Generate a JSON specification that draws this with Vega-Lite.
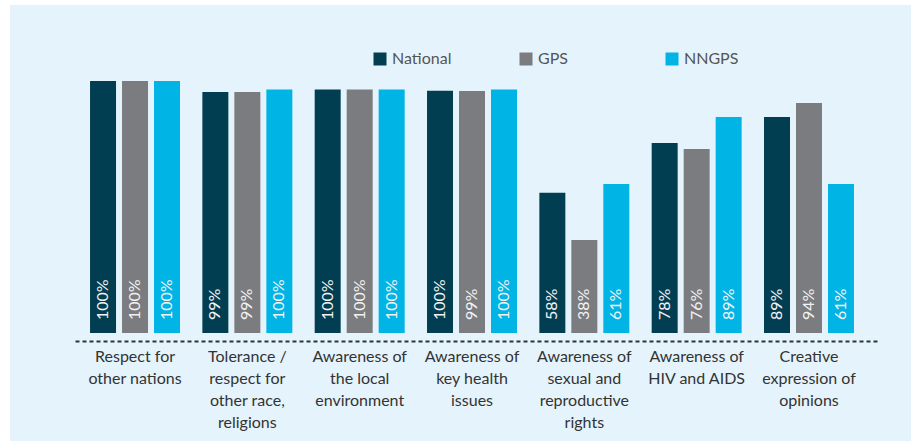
{
  "$schema": "https://vega.github.io/schema/vega-lite/v6.json",
  "width": 901,
  "height": 436,
  "autosize": {"type": "none"},
  "padding": {"left": 10, "top": 5, "right": 0, "bottom": 0},
  "background": "#ffffff",
  "config": {
    "view": {"fill": "#e5f4fc", "stroke": null},
    "font": "Lato"
  },
  "data": {
    "values": [
      {"category": "Respect for\nother nations", "series": "National", "value": 103.5, "label": "100%"},
      {"category": "Respect for\nother nations", "series": "GPS", "value": 103.5, "label": "100%"},
      {"category": "Respect for\nother nations", "series": "NNGPS", "value": 103.5, "label": "100%"},
      {"category": "Tolerance /\nrespect for\nother race,\nreligions", "series": "National", "value": 99, "label": "99%"},
      {"category": "Tolerance /\nrespect for\nother race,\nreligions", "series": "GPS", "value": 99, "label": "99%"},
      {"category": "Tolerance /\nrespect for\nother race,\nreligions", "series": "NNGPS", "value": 100, "label": "100%"},
      {"category": "Awareness of\nthe local\nenvironment", "series": "National", "value": 100, "label": "100%"},
      {"category": "Awareness of\nthe local\nenvironment", "series": "GPS", "value": 100, "label": "100%"},
      {"category": "Awareness of\nthe local\nenvironment", "series": "NNGPS", "value": 100, "label": "100%"},
      {"category": "Awareness of\nkey health\nissues", "series": "National", "value": 99.5, "label": "100%"},
      {"category": "Awareness of\nkey health\nissues", "series": "GPS", "value": 99.4, "label": "99%"},
      {"category": "Awareness of\nkey health\nissues", "series": "NNGPS", "value": 100, "label": "100%"},
      {"category": "Awareness of\nsexual and\nreproductive\nrights", "series": "National", "value": 57.6, "label": "58%"},
      {"category": "Awareness of\nsexual and\nreproductive\nrights", "series": "GPS", "value": 38.2, "label": "38%"},
      {"category": "Awareness of\nsexual and\nreproductive\nrights", "series": "NNGPS", "value": 61.2, "label": "61%"},
      {"category": "Awareness of\nHIV and AIDS", "series": "National", "value": 78, "label": "78%"},
      {"category": "Awareness of\nHIV and AIDS", "series": "GPS", "value": 75.6, "label": "76%"},
      {"category": "Awareness of\nHIV and AIDS", "series": "NNGPS", "value": 88.7, "label": "89%"},
      {"category": "Creative\nexpression of\nopinions", "series": "National", "value": 88.7, "label": "89%"},
      {"category": "Creative\nexpression of\nopinions", "series": "GPS", "value": 94.5, "label": "94%"},
      {"category": "Creative\nexpression of\nopinions", "series": "NNGPS", "value": 61.2, "label": "61%"}
    ]
  },
  "encoding": {
    "x": {
      "field": "category",
      "type": "nominal",
      "sort": null,
      "scale": {"range": [65, 868], "paddingInner": 0.199, "paddingOuter": 0.1738, "align": 0.385},
      "axis": {
        "title": null,
        "orient": "bottom",
        "offset": -100,
        "ticks": false,
        "labelAngle": 0,
        "labelAlign": "center",
        "labelBaseline": "top",
        "labelPadding": 7,
        "labelFont": "Lato",
        "labelFontSize": 16,
        "labelColor": "#333333",
        "labelLineHeight": 22,
        "labelExpr": "split(datum.value, '\\n')",
        "labelLimit": 0,
        "domainColor": "#333333",
        "domainWidth": 2,
        "domainDash": [4, 3],
        "grid": false
      }
    },
    "xOffset": {
      "field": "series",
      "type": "nominal",
      "sort": ["National", "GPS", "NNGPS"],
      "scale": {"paddingInner": 0.1875, "paddingOuter": 0}
    }
  },
  "layer": [
    {
      "mark": {"type": "bar"},
      "encoding": {
        "y": {
          "field": "value",
          "type": "quantitative",
          "scale": {"domain": [-44.35, 134.7], "nice": false, "zero": false},
          "axis": null
        },
        "y2": {"datum": 0},
        "color": {
          "field": "series",
          "type": "nominal",
          "sort": ["National", "GPS", "NNGPS"],
          "scale": {"domain": ["National", "GPS", "NNGPS"], "range": ["#023e52", "#7b7c80", "#00b4e6"]},
          "legend": {
            "title": null,
            "orient": "none",
            "legendX": 362,
            "legendY": 46,
            "direction": "horizontal",
            "columns": 3,
            "gridAlign": "all",
            "columnPadding": 66,
            "symbolType": "square",
            "symbolSize": 169,
            "symbolStrokeWidth": 0,
            "labelFont": "Lato",
            "labelFontSize": 16,
            "labelColor": "#555555",
            "labelOffset": 4
          }
        }
      }
    },
    {
      "mark": {
        "type": "text",
        "angle": 270,
        "align": "left",
        "baseline": "middle",
        "dx": 13,
        "font": "Lato",
        "fontSize": 16,
        "color": "#f2f2f2"
      },
      "encoding": {
        "y": {"datum": 0, "type": "quantitative"},
        "text": {"field": "label"}
      }
    }
  ]
}
